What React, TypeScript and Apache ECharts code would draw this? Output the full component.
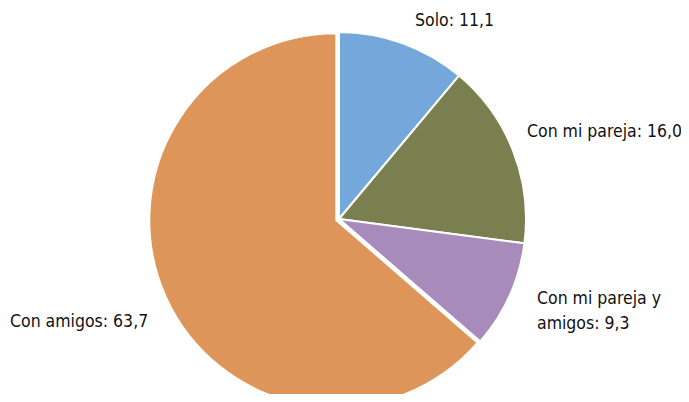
import React, { useEffect, useRef } from "react";
import * as echarts from "echarts";

const categories = ["Solo", "Con mi pareja", "Con mi pareja y\namigos", "Con amigos"];
const values = [11.1, 16.0, 9.3, 63.7];
const valueLabels = ["11,1", "16,0", "9,3", "63,7"];
const colors = ["#75A8DA", "#7A7F4F", "#A68BBB", "#DE9559"];
const explodedIndex = 3;
const labelPos = [
  [415, 20],
  [527, 131],
  [537, 310],
  [10, 321],
];

export default function App() {
  const ref = useRef<HTMLDivElement>(null);
  useEffect(() => {
    if (!ref.current) return;
    const chart = echarts.init(ref.current, null, { renderer: "svg" });
    const labelCfg = {
      show: true,
      position: "inside",
      fontFamily: "'DejaVu Sans Condensed', 'Liberation Sans Narrow', sans-serif",
      fontSize: 17.5,
      lineHeight: 25,
      color: "#111111",
      overflow: "none",
      formatter: (p: any) => `${categories[p.dataIndex]}: ${valueLabels[p.dataIndex]}`,
    };
    const labelLayout = (p: any) => ({
      x: labelPos[p.dataIndex][0],
      y: labelPos[p.dataIndex][1],
      align: "left",
      verticalAlign: "middle",
      hideOverlap: false,
    });
    const makeData = (exploded: boolean) =>
      values.map((v, i) => {
        const visible = exploded ? i === explodedIndex : i !== explodedIndex;
        return {
          value: v,
          name: categories[i],
          itemStyle: visible
            ? { color: colors[i], borderColor: "#ffffff", borderWidth: 2 }
            : { color: "transparent", borderWidth: 0 },
          label: { show: visible },
        };
      });
    const base = {
      type: "pie",
      radius: 187,
      startAngle: 90,
      clockwise: true,
      silent: true,
      emphasis: { disabled: true },
      labelLine: { show: false },
      label: labelCfg,
      labelLayout,
    };
    chart.setOption({
      animation: false,
      series: [
        { ...base, center: [339, 219], data: makeData(false) },
        { ...base, center: [336.3, 220.2], data: makeData(true) },
      ],
    });
    return () => chart.dispose();
  }, []);
  return <div ref={ref} style={{ width: 689, height: 402, margin: -8 }} />;
}
